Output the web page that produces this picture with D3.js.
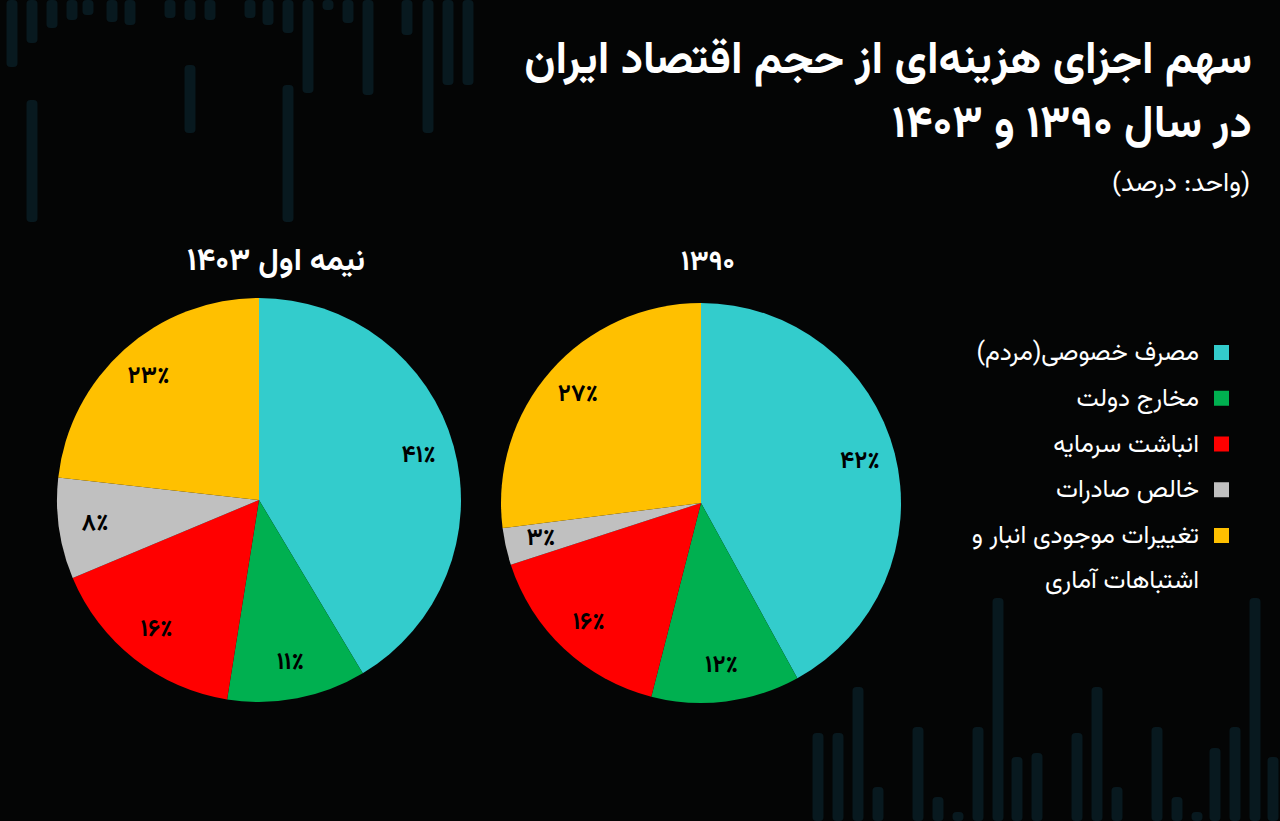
<!DOCTYPE html>
<html lang="fa">
<head>
<meta charset="utf-8">
<script src="https://cdn.jsdelivr.net/npm/d3@7"></script>
<style>
  html, body { margin: 0; padding: 0; background: #040505; }
  svg { display: block; }
  text { font-family: "Vazirmatn", "Noto Sans Arabic", "DejaVu Sans", sans-serif; }
</style>
</head>
<body>
<svg id="chart" width="1280" height="821"></svg>
<script>
// ---------------- DATA ----------------
const categories = [
  "مصرف خصوصی(مردم)",
  "مخارج دولت",
  "انباشت سرمایه",
  "خالص صادرات",
  "تغییرات موجودی انبار و اشتباهات آماری"
];
const values1390 = [42, 12, 16, 3, 27];
const values1403 = [41, 11, 16, 8, 23];
const pieTitles = ["۱۳۹۰", "نیمه اول ۱۴۰۳"];
const colors = ["#33CCCC", "#00B050", "#FF0000", "#C0C0C0", "#FFC000"];
const titleLines = ["سهم اجزای هزینه‌ای از حجم اقتصاد ایران", "در سال ۱۳۹۰ و ۱۴۰۳"];
const subtitle = "(واحد: درصد)";

// decorative background bars (not data): [x, y0, y1]
const bgBars = [
  [12,0,67],[32,0,43],[32,100,222],[52,0,28],[72,0,20],[88,0,15],[112,0,22],[130,0,25],
  [170,0,18],[190,0,20],[190,65,133],[210,0,20],[250,0,18],[268,0,25],[288,0,33],[288,85,222],
  [308,0,93],[328,0,10],[348,0,23],[368,0,95],[407,0,35],[428,0,133],[448,0,85],[468,0,85],
  [818,733,821],[838,733,821],[858,687,821],[878,787,821],[918,727,821],[938,797,821],[958,812,821],
  [978,727,821],[998,598,821],[1017,757,821],[1037,753,821],[1077,733,821],[1097,687,821],
  [1117,787,821],[1157,727,821],[1177,797,821],[1197,812,821],[1215,748,821],[1235,727,821],
  [1255,598,821],[1273,757,821]
];

// ---------------- DRAW ----------------
const W = 1280, H = 821;
const svg = d3.select("#chart");
const fa = n => String(n).replace(/\d/g, d => "۰۱۲۳۴۵۶۷۸۹"[d]);

svg.append("rect").attr("width", W).attr("height", H).attr("fill", "#040505");

svg.append("g").selectAll("rect").data(bgBars).join("rect")
  .attr("x", d => d[0] - 5.5).attr("width", 11)
  .attr("y", d => d[1]).attr("height", d => d[2] - d[1])
  .attr("rx", 4).attr("fill", "#0b2730").attr("opacity", 0.6);

// Title
const titleG = svg.append("g");
function fitText(sel, targetW) {
  const node = sel.node();
  const fs = parseFloat(sel.attr("font-size"));
  const w = node.getComputedTextLength();
  if (w > 0) sel.attr("font-size", fs * targetW / w);
}
const t1 = titleG.append("text").text(titleLines[0])
  .attr("x", 1252).attr("y", 73).attr("direction", "rtl").attr("text-anchor", "start")
  .attr("fill", "#fff").attr("font-weight", "bold").attr("font-size", 44);
fitText(t1, 728);
titleG.append("text").text(titleLines[1])
  .attr("x", 1252).attr("y", 137).attr("direction", "rtl").attr("text-anchor", "start")
  .attr("fill", "#fff").attr("font-weight", "bold").attr("font-size", t1.attr("font-size"));
const st = titleG.append("text").text(subtitle)
  .attr("x", 1250).attr("y", 191).attr("direction", "rtl").attr("text-anchor", "start")
  .attr("fill", "#fff").attr("font-size", 25);
fitText(st, 138);

// Pies
const pies = [
  { values: values1390, title: pieTitles[0], cx: 701, cy: 503, r: 200, tx: 708, tw: 54 },
  { values: values1403, title: pieTitles[1], cx: 259, cy: 500, r: 202, tx: 276, tw: 178 }
];
const pie = d3.pie().sort(null).value(d => d.v);

pies.forEach(p => {
  const data = pie(p.values.map((v, i) => ({ v, i })));
  const arc = d3.arc().innerRadius(0).outerRadius(p.r);
  const labelArc = d3.arc().innerRadius(p.r * 0.82).outerRadius(p.r * 0.82);
  const g = svg.append("g").attr("transform", `translate(${p.cx},${p.cy})`);
  g.selectAll("path").data(data).join("path")
    .attr("d", arc).attr("fill", d => colors[d.data.i]);
  g.selectAll("text").data(data).join("text")
    .attr("transform", d => `translate(${labelArc.centroid(d)})`)
    .attr("text-anchor", "middle").attr("dominant-baseline", "central")
    .attr("font-size", 24).attr("font-weight", "bold").attr("fill", "#000")
    .text(d => fa(d.data.v) + "٪");
  const tt = svg.append("text").text(p.title)
    .attr("x", p.tx).attr("y", 270).attr("text-anchor", "middle")
    .attr("direction", "rtl")
    .attr("fill", "#fff").attr("font-weight", "bold").attr("font-size", 28);
  fitText(tt, p.tw);
});

// Legend
const legend = svg.append("g");
const LFS = 25;
const rowY = d3.scalePoint().domain(d3.range(categories.length)).range([352, 535]);
categories.forEach((c, i) => {
  const y = rowY(i);
  legend.append("rect").attr("x", 1214).attr("y", y - 7).attr("width", 15).attr("height", 15)
    .attr("fill", colors[i]);
  const txt = legend.append("text").attr("x", 1199).attr("y", y + 8)
    .attr("direction", "rtl").attr("text-anchor", "start")
    .attr("fill", "#fff").attr("font-size", LFS);
  const words = c.split(" ");
  let line = [], lines = [];
  const probe = legend.append("text").attr("font-size", LFS).attr("direction", "rtl");
  words.forEach(w => {
    const test = line.concat([w]).join(" ");
    probe.text(test);
    if (probe.node().getComputedTextLength() > 280 && line.length) {
      lines.push(line.join(" ")); line = [w];
    } else line.push(w);
  });
  lines.push(line.join(" "));
  probe.remove();
  lines.forEach((l, k) => {
    txt.append("tspan").attr("x", 1199).attr("dy", k === 0 ? 0 : 45).text(l);
  });
});
</script>
</body>
</html>
